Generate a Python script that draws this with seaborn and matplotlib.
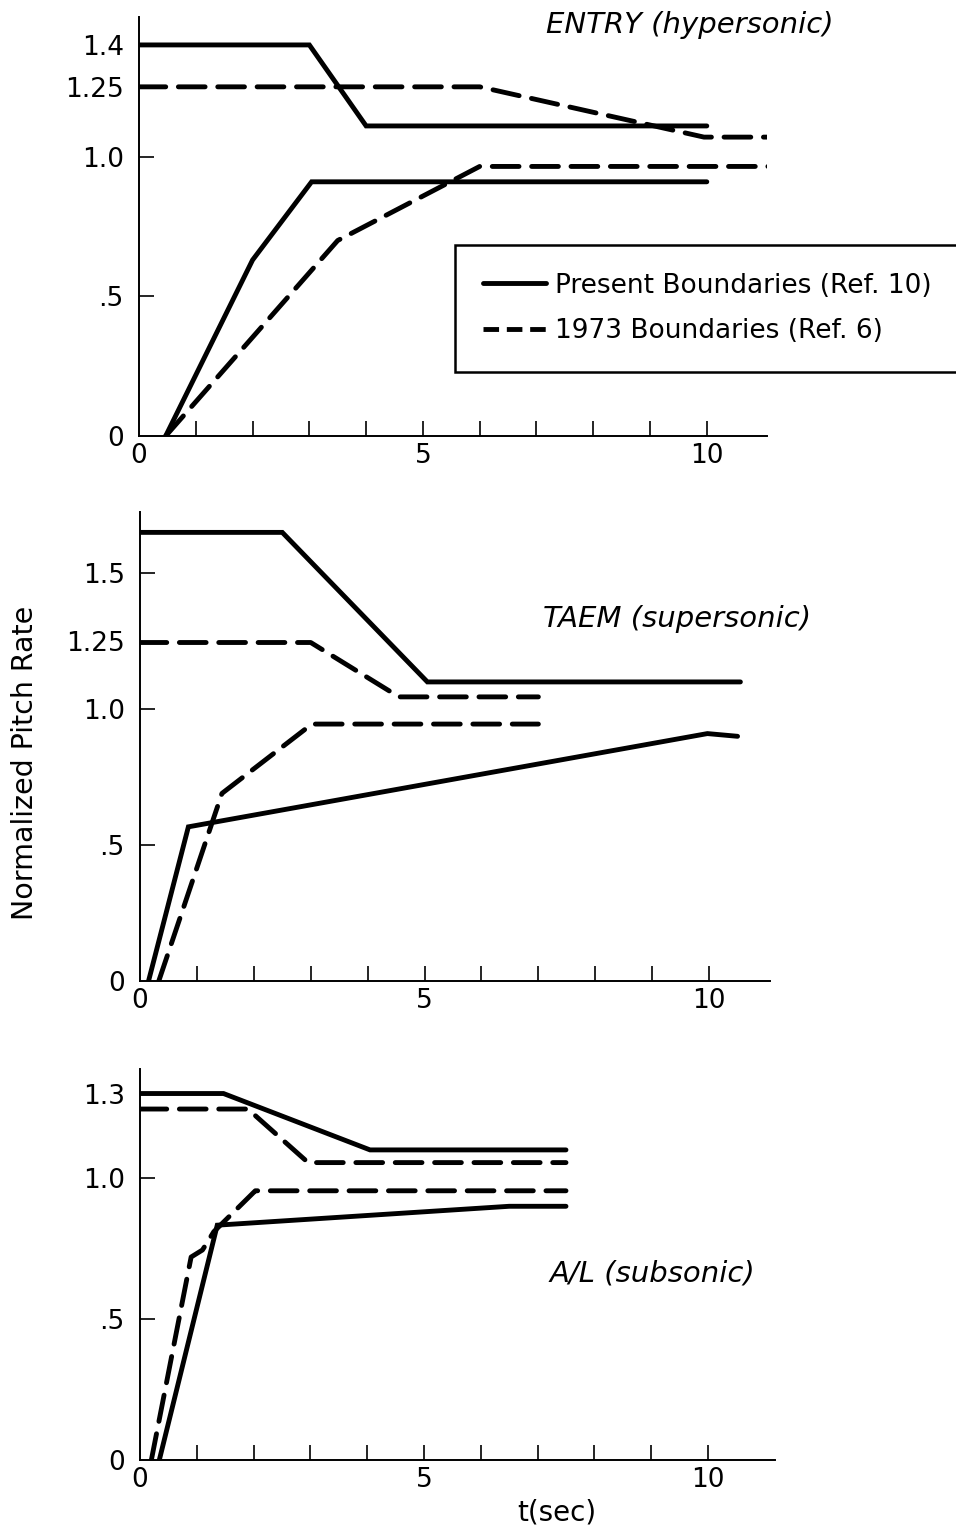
"""Normalized pitch rate boundaries — ENTRY / TAEM / A/L (three stacked panels)."""
import matplotlib
matplotlib.use("Agg")
import matplotlib.pyplot as plt
from matplotlib.lines import Line2D
import seaborn as sns

sns.set_theme(style="ticks")
plt.rcParams["font.family"] = ["DejaVu Sans"]

# ENTRY (hypersonic)
entry_present_hi_t = [0, 3.0, 4.0, 10.0]
entry_present_hi_q = [1.40, 1.40, 1.11, 1.11]
entry_present_lo_t = [0.47, 2.0, 3.04, 10.0]
entry_present_lo_q = [0.0, 0.63, 0.91, 0.91]
entry_1973_hi_t = [0, 6.0, 9.95, 12.0]
entry_1973_hi_q = [1.25, 1.25, 1.07, 1.07]
entry_1973_lo_t = [0.47, 3.5, 6.0, 12.0]
entry_1973_lo_q = [0.0, 0.70, 0.965, 0.965]

# TAEM (supersonic)
taem_present_hi_t = [0, 2.5, 5.05, 10.55]
taem_present_hi_q = [1.65, 1.65, 1.10, 1.10]
taem_present_lo_t = [0.15, 0.85, 9.97, 10.5]
taem_present_lo_q = [0.0, 0.567, 0.91, 0.90]
taem_1973_hi_t = [0, 3.0, 4.55, 7.0]
taem_1973_hi_q = [1.245, 1.245, 1.045, 1.045]
taem_1973_lo_t = [0.33, 1.44, 3.02, 7.0]
taem_1973_lo_q = [0.0, 0.69, 0.945, 0.945]

# A/L (subsonic)
al_present_hi_t = [0, 1.47, 4.05, 7.5]
al_present_hi_q = [1.30, 1.30, 1.10, 1.10]
al_present_lo_t = [0.34, 1.36, 6.5, 7.5]
al_present_lo_q = [0.0, 0.833, 0.90, 0.90]
al_1973_hi_t = [0, 1.9, 2.96, 7.5]
al_1973_hi_q = [1.245, 1.245, 1.055, 1.055]
al_1973_lo_t = [0.2, 0.9, 1.1, 1.3, 2.03, 7.5]
al_1973_lo_q = [0.0, 0.72, 0.745, 0.81, 0.955, 0.955]

PANELS = [
    dict(title="ENTRY (hypersonic)", title_xy=(9.7, 1.47), xmax=11.06, ymax=1.5,
         yticks=[0, 0.5, 1.0, 1.25, 1.4], ylabels=["0", ".5", "1.0", "1.25", "1.4"],
         present=[(entry_present_hi_t, entry_present_hi_q), (entry_present_lo_t, entry_present_lo_q)],
         old=[(entry_1973_hi_t, entry_1973_hi_q), (entry_1973_lo_t, entry_1973_lo_q)],
         rect=[139 / 956, 1 - 436 / 1532, (767 - 139) / 956, (436 - 17) / 1532]),
    dict(title="TAEM (supersonic)", title_xy=(9.44, 1.33), xmax=11.07, ymax=1.725,
         yticks=[0, 0.5, 1.0, 1.25, 1.5], ylabels=["0", ".5", "1.0", "1.25", "1.5"],
         present=[(taem_present_hi_t, taem_present_hi_q), (taem_present_lo_t, taem_present_lo_q)],
         old=[(taem_1973_hi_t, taem_1973_hi_q), (taem_1973_lo_t, taem_1973_lo_q)],
         rect=[140 / 956, 1 - 981 / 1532, (770 - 140) / 956, (981 - 512) / 1532]),
    dict(title="A/L (subsonic)", title_xy=(9.03, 0.663), xmax=11.18, ymax=1.387,
         yticks=[0, 0.5, 1.0, 1.3], ylabels=["0", ".5", "1.0", "1.3"],
         present=[(al_present_hi_t, al_present_hi_q), (al_present_lo_t, al_present_lo_q)],
         old=[(al_1973_hi_t, al_1973_hi_q), (al_1973_lo_t, al_1973_lo_q)],
         rect=[140 / 956, 1 - 1460 / 1532, (775 - 140) / 956, (1460 - 1069) / 1532]),
]

FS = 19
LW = 3.5
DASH = (0, (5.5, 2.6))

fig = plt.figure(figsize=(9.56, 15.32), dpi=100)

for p in PANELS:
    ax = fig.add_axes(p["rect"])
    for t, q in p["present"]:
        sns.lineplot(x=t, y=q, ax=ax, color="black", lw=LW, sort=False, estimator=None,
                     solid_capstyle="round", solid_joinstyle="miter")
    for t, q in p["old"]:
        sns.lineplot(x=t, y=q, ax=ax, color="black", lw=LW, sort=False, estimator=None,
                     linestyle=DASH, dash_capstyle="round")
    ax.set_xlim(0, p["xmax"])
    ax.set_ylim(0, p["ymax"])
    ax.set_xticks([0, 5, 10])
    ax.set_xticklabels(["0", "5", "10"])
    ax.set_xticks([1, 2, 3, 4, 6, 7, 8, 9], minor=True)
    ax.set_yticks(p["yticks"])
    ax.set_yticklabels(p["ylabels"])
    ax.tick_params(axis="both", which="both", direction="in", length=11, width=1.2,
                   color="black", labelsize=FS, labelcolor="black")
    ax.tick_params(axis="y", pad=11)
    ax.tick_params(axis="x", pad=5)
    # no tick marks at the odd levels / at the origin
    for val, tick in zip(p["yticks"], ax.yaxis.get_major_ticks()):
        if val in (0, 1.25, 1.4, 1.3):
            tick.tick1line.set_visible(False)
    ax.xaxis.get_major_ticks()[0].tick1line.set_visible(False)
    for side in ("top", "right"):
        ax.spines[side].set_visible(False)
    for side in ("left", "bottom"):
        ax.spines[side].set_linewidth(1.4)
        ax.spines[side].set_color("black")
    ax.set_xlabel("")
    ax.set_ylabel("")
    ax.text(*p["title_xy"], p["title"], ha="center", va="center", fontsize=21,
            style="italic", color="black")

handles = [
    Line2D([], [], color="black", lw=LW, label="Present Boundaries (Ref. 10)"),
    Line2D([], [], color="black", lw=LW, linestyle=(0, (3.2, 1.6)), label="1973 Boundaries (Ref. 6)"),
]
leg = fig.legend(handles=handles, loc="upper left", bbox_to_anchor=(455 / 956, 1 - 245 / 1532),
                 fontsize=FS, frameon=True, fancybox=False, framealpha=1, handlelength=2.4,
                 borderpad=1.05, labelspacing=0.75, handletextpad=0.35, borderaxespad=0)
leg.get_frame().set_edgecolor("black")
leg.get_frame().set_linewidth(1.8)
for txt in leg.get_texts():
    txt.set_color("black")

fig.text(25 / 956, 1 - 763 / 1532, "Normalized Pitch Rate", rotation=90,
         ha="center", va="center", fontsize=20.5, color="black")
fig.text(557 / 956, 1 - 1513 / 1532, "t(sec)", ha="center", va="center",
         fontsize=20, color="black")

fig.savefig("out.png", dpi=100, facecolor="white")
